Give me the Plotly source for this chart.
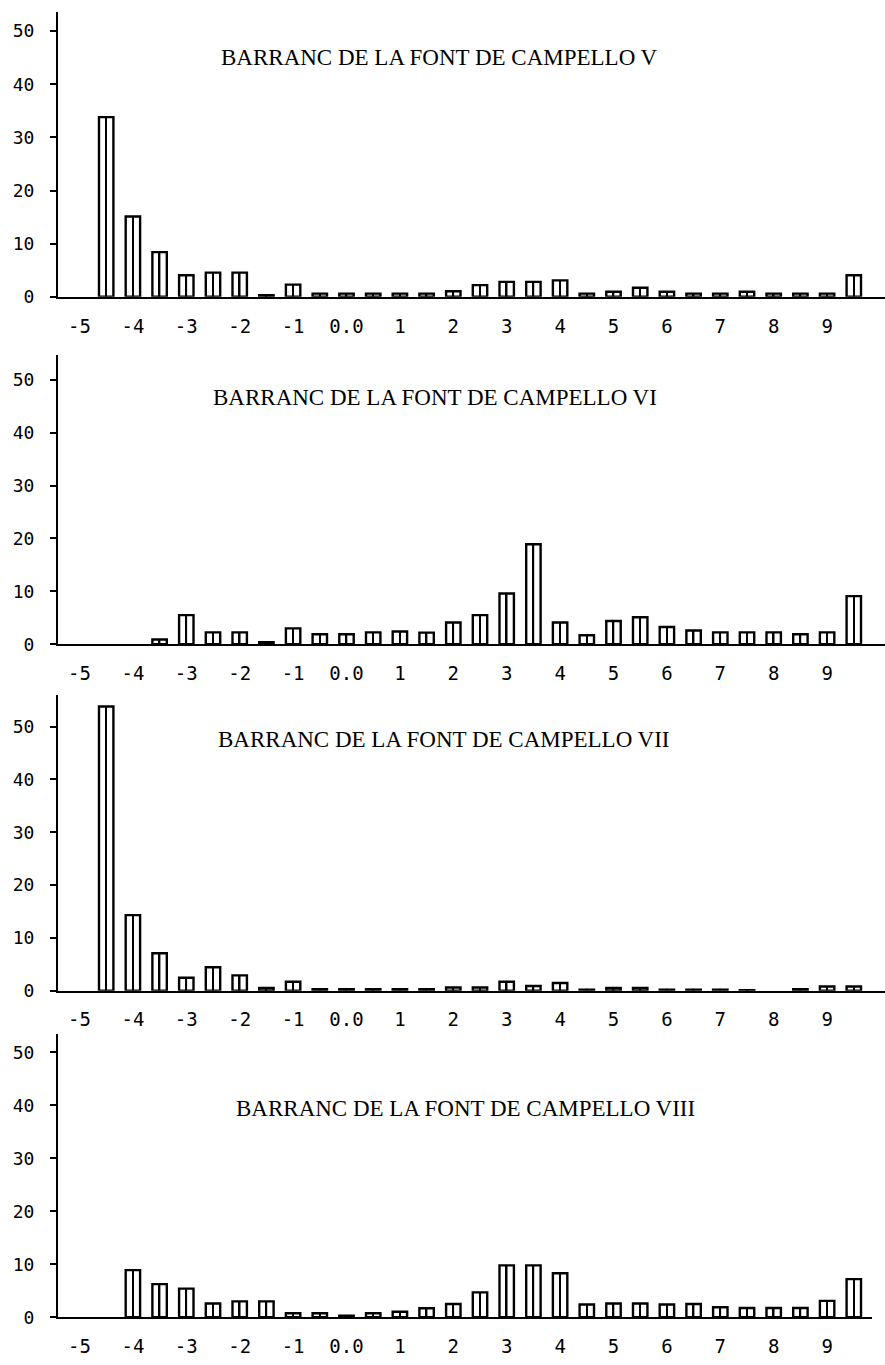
import plotly.graph_objects as go

# grain-size classes (phi), one bar per half-phi class
phi = [-4.5, -4.0, -3.5, -3.0, -2.5, -2.0, -1.5, -1.0, -0.5, 0.0, 0.5, 1.0, 1.5, 2.0,
       2.5, 3.0, 3.5, 4.0, 4.5, 5.0, 5.5, 6.0, 6.5, 7.0, 7.5, 8.0, 8.5, 9.0, 9.5]

campello_V = [33.8, 15.1, 8.4, 4.05, 4.55, 4.55, 0.3, 2.3, 0.6, 0.6, 0.6, 0.6, 0.6, 1.05,
              2.2, 2.8, 2.8, 3.1, 0.6, 0.95, 1.7, 0.95, 0.6, 0.6, 0.95, 0.6, 0.6, 0.6, 4.05]
campello_VI = [0, 0, 0.9, 5.5, 2.25, 2.25, 0.4, 3.0, 1.9, 1.9, 2.25, 2.4, 2.2, 4.1,
               5.5, 9.6, 18.9, 4.1, 1.7, 4.4, 5.1, 3.25, 2.6, 2.25, 2.25, 2.25, 1.9, 2.25, 9.1]
campello_VII = [53.8, 14.3, 7.1, 2.45, 4.45, 2.9, 0.5, 1.7, 0.3, 0.3, 0.3, 0.3, 0.3, 0.6,
                0.6, 1.7, 0.9, 1.45, 0.2, 0.5, 0.5, 0.2, 0.2, 0.2, 0.1, 0, 0.3, 0.8, 0.8]
campello_VIII = [0, 8.9, 6.25, 5.4, 2.6, 3.0, 3.0, 0.75, 0.75, 0.3, 0.75, 1.05, 1.7, 2.5,
                 4.7, 9.8, 9.8, 8.3, 2.4, 2.6, 2.6, 2.4, 2.5, 1.9, 1.75, 1.75, 1.75, 3.1, 7.2]

titles = ["BARRANC DE LA FONT DE CAMPELLO V",
          "BARRANC DE LA FONT DE CAMPELLO VI",
          "BARRANC DE LA FONT DE CAMPELLO VII",
          "BARRANC DE LA FONT DE CAMPELLO VIII"]

x_tick_vals = [-5, -4, -3, -2, -1, 0, 1, 2, 3, 4, 5, 6, 7, 8, 9]
x_tick_text = ["-5", "-4", "-3", "-2", "-1", "0.0", "1", "2", "3", "4", "5", "6", "7", "8", "9"]
y_tick_vals = [0, 10, 20, 30, 40, 50]
y_tick_text = ["0", "10", "20", "30", "40", "50"]

series = [campello_V, campello_VI, campello_VII, campello_VIII]

W, H = 885, 1365
# panel geometry in pixels: (baseline y, axis top y, y max value, x right edge px, title cx, title cy)
panels = [
    (299, 12, 53.6, 885, 439, 58),
    (649, 358, 54.6, 885, 435, 400),
    (998, 700, 56.0, 885, 444, 745),
    (1327, 1042, 53.4, 872, 465, 1117),
]
X_LEFT = 58
PX0 = 79.5      # pixel of phi = -5
PX_PER = 53.4   # pixels per phi unit

mono = "DejaVu Sans Mono"
serif = "Liberation Serif"

fig = go.Figure()
layout = dict(
    width=W, height=H, margin=dict(l=0, r=0, t=0, b=0),
    paper_bgcolor="white", plot_bgcolor="white",
    barmode="overlay", showlegend=False, annotations=[],
)

for i, (vals, title, geo) in enumerate(zip(series, titles, panels)):
    base, top, ymax, xr, tcx, tcy = geo
    n = "" if i == 0 else str(i + 1)
    xa, ya = "x" + n, "y" + n
    shown = [v if v > 0 else None for v in vals]   # empty classes draw nothing
    fig.add_trace(go.Bar(x=phi, y=shown, width=0.27, xaxis=xa, yaxis=ya,
                         marker=dict(color="white", line=dict(color="black", width=2.4)),
                         hoverinfo="x+y"))
    fig.add_trace(go.Bar(x=phi, y=shown, width=0.03, xaxis=xa, yaxis=ya,
                         marker=dict(color="black", line=dict(width=0)),
                         hoverinfo="skip"))
    x0 = -5 + (X_LEFT - PX0) / PX_PER
    x1 = -5 + (xr - PX0) / PX_PER
    layout["xaxis" + n] = dict(
        domain=[X_LEFT / W, xr / W], range=[x0, x1], anchor=ya,
        tickvals=x_tick_vals, ticktext=x_tick_text, ticks="",
        showline=True, linecolor="black", linewidth=2, showgrid=False, zeroline=False,
        tickfont=dict(family=mono, size=19, color="black"), ticklabelstandoff=11,
    )
    layout["yaxis" + n] = dict(
        domain=[(H - base) / H, (H - top) / H], range=[0, ymax], anchor=xa,
        tickvals=y_tick_vals, ticktext=y_tick_text, ticks="outside", ticklen=6,
        tickwidth=2, tickcolor="black",
        showline=True, linecolor="black", linewidth=2, showgrid=False, zeroline=False,
        tickfont=dict(family=mono, size=18, color="black"), ticklabelstandoff=12,
    )
    layout["annotations"].append(dict(
        text=title, x=tcx / W, y=1 - tcy / H, xref="paper", yref="paper",
        xanchor="center", yanchor="middle", showarrow=False,
        font=dict(family=serif, size=23, color="black"),
    ))

fig.update_layout(**layout)
fig.write_html(
    "out.html",
    config={"displayModeBar": False},
    post_script=(
        "document.documentElement.style.margin='0px';"
        "document.documentElement.style.overflow='hidden';"
        "document.body.style.margin='0px';"
        "document.body.style.overflow='hidden';"
    ),
)
